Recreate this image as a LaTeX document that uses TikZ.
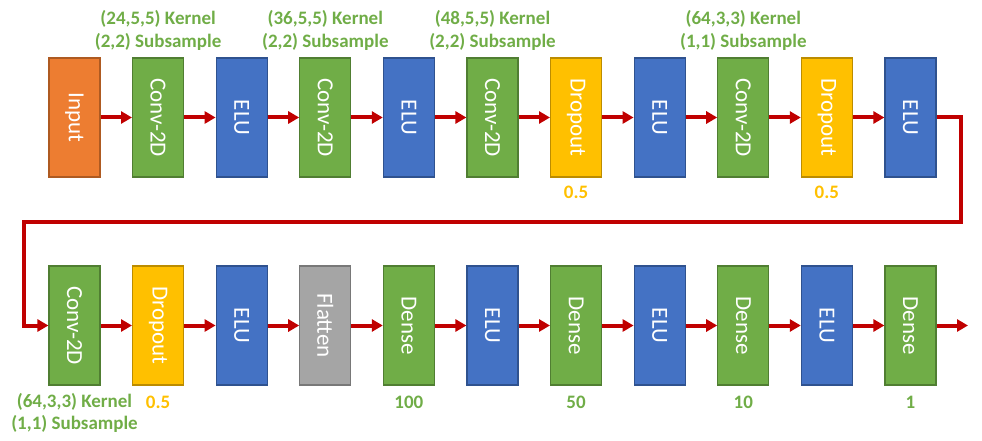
\documentclass[tikz,border=0pt]{standalone}
\usepackage{fontspec}
\setmainfont{Carlito}
\usetikzlibrary{arrows.meta}
\definecolor{cOrange}{HTML}{ED7D31}
\definecolor{cOrangeB}{HTML}{AE5A21}
\definecolor{cGreen}{HTML}{70AD47}
\definecolor{cGreenB}{HTML}{507E32}
\definecolor{cBlue}{HTML}{4472C4}
\definecolor{cBlueB}{HTML}{2F528F}
\definecolor{cGold}{HTML}{FFC000}
\definecolor{cGoldB}{HTML}{BC8C00}
\definecolor{cGray}{HTML}{A5A5A5}
\definecolor{cGrayB}{HTML}{787878}
\definecolor{cRed}{HTML}{C00000}
\tikzset{
  layer/.style={draw, line width=1.2pt, minimum width=51pt, minimum height=119pt, inner sep=0pt,
    text=white, font=\fontsize{23}{23}\selectfont},
  lbl/.style={rotate=-90},
  inbox/.style={layer, fill=cOrange, draw=cOrangeB},
  convbox/.style={layer, fill=cGreen, draw=cGreenB},
  elubox/.style={layer, fill=cBlue, draw=cBlueB},
  dropbox/.style={layer, fill=cGold, draw=cGoldB},
  flatbox/.style={layer, fill=cGray, draw=cGrayB},
  note/.style={text=cGreen, font=\bfseries\fontsize{19}{19}\selectfont, inner sep=0pt},
  pnote/.style={text=cGold, font=\bfseries\fontsize{19}{19}\selectfont, inner sep=0pt},
  flow/.style={draw=cRed, line width=4pt, -{Triangle[length=11pt,width=12pt]}},
}
\begin{document}
\begin{tikzpicture}[x=1pt,y=-1pt]
\useasboundingbox (0,0) rectangle (982,441);
\def\cx#1{74.5+83.6*#1}
% row 1
\node[inbox]   (a0)  at ({\cx{0}},117.5) {\rotatebox{-90}{Input}};
\node[convbox] (a1)  at ({\cx{1}},117.5) {\rotatebox{-90}{Conv-2D}};
\node[elubox]  (a2)  at ({\cx{2}},117.5) {\rotatebox{-90}{ELU}};
\node[convbox] (a3)  at ({\cx{3}},117.5) {\rotatebox{-90}{Conv-2D}};
\node[elubox]  (a4)  at ({\cx{4}},117.5) {\rotatebox{-90}{ELU}};
\node[convbox] (a5)  at ({\cx{5}},117.5) {\rotatebox{-90}{Conv-2D}};
\node[dropbox] (a6)  at ({\cx{6}},117.5) {\rotatebox{-90}{Dropout}};
\node[elubox]  (a7)  at ({\cx{7}},117.5) {\rotatebox{-90}{ELU}};
\node[convbox] (a8)  at ({\cx{8}},117.5) {\rotatebox{-90}{Conv-2D}};
\node[dropbox] (a9)  at ({\cx{9}},117.5) {\rotatebox{-90}{Dropout}};
\node[elubox]  (a10) at ({\cx{10}},117.5) {\rotatebox{-90}{ELU}};
% row 2
\node[convbox] (b0)  at ({\cx{0}},325.5) {\rotatebox{-90}{Conv-2D}};
\node[dropbox] (b1)  at ({\cx{1}},325.5) {\rotatebox{-90}{Dropout}};
\node[elubox]  (b2)  at ({\cx{2}},325.5) {\rotatebox{-90}{ELU}};
\node[flatbox] (b3)  at ({\cx{3}},325.5) {\rotatebox{-90}{Flatten}};
\node[convbox] (b4)  at ({\cx{4}},325.5) {\rotatebox{-90}{Dense}};
\node[elubox]  (b5)  at ({\cx{5}},325.5) {\rotatebox{-90}{ELU}};
\node[convbox] (b6)  at ({\cx{6}},325.5) {\rotatebox{-90}{Dense}};
\node[elubox]  (b7)  at ({\cx{7}},325.5) {\rotatebox{-90}{ELU}};
\node[convbox] (b8)  at ({\cx{8}},325.5) {\rotatebox{-90}{Dense}};
\node[elubox]  (b9)  at ({\cx{9}},325.5) {\rotatebox{-90}{ELU}};
\node[convbox] (b10) at ({\cx{10}},325.5) {\rotatebox{-90}{Dense}};
% annotations
\node[note] (k1) at ({\cx{1}},19) {(24,5,5) Kernel};
\node[note] (s1) at ({\cx{1}},42) {(2,2) Subsample};
\node[note] (k3) at ({\cx{3}},19) {(36,5,5) Kernel};
\node[note] (s3) at ({\cx{3}},42) {(2,2) Subsample};
\node[note] (k5) at ({\cx{5}},19) {(48,5,5) Kernel};
\node[note] (s5) at ({\cx{5}},42) {(2,2) Subsample};
\node[note] (k8) at ({\cx{8}},19) {(64,3,3) Kernel};
\node[note] (s8) at ({\cx{8}},42) {(1,1) Subsample};
\node[pnote] (p6) at ({\cx{6}},192) {0.5};
\node[pnote] (p9) at ({\cx{9}},192) {0.5};
\node[note] (kb0) at ({\cx{0}},402) {(64,3,3) Kernel};
\node[note] (sb0) at ({\cx{0}},424) {(1,1) Subsample};
\node[pnote] (pb1) at ({\cx{1}},402) {0.5};
\node[note] (d4) at ({\cx{4}},402) {100};
\node[note] (d6) at ({\cx{6}},402) {50};
\node[note] (d8) at ({\cx{8}},402) {10};
\node[note] (d10) at ({\cx{10}},402) {1};
% connectors
\foreach \i [evaluate=\i as \j using int(\i+1)] in {0,...,9} {
  \draw[flow] (a\i.east) -- (a\j.west);
  \draw[flow] (b\i.east) -- (b\j.west);
}
\coordinate (t1) at (961,117.5);
\coordinate (t2) at (961,221.5);
\coordinate (t3) at (24,221.5);
\coordinate (t4) at (24,325.5);
\coordinate (fin) at (968,325.5);
\draw[flow, line join=miter] (a10.east) -- (t1) -- (t2) -- (t3) -- (t4) -- (b0.west);
\draw[flow] (b10.east) -- (fin);
\end{tikzpicture}
\end{document}
